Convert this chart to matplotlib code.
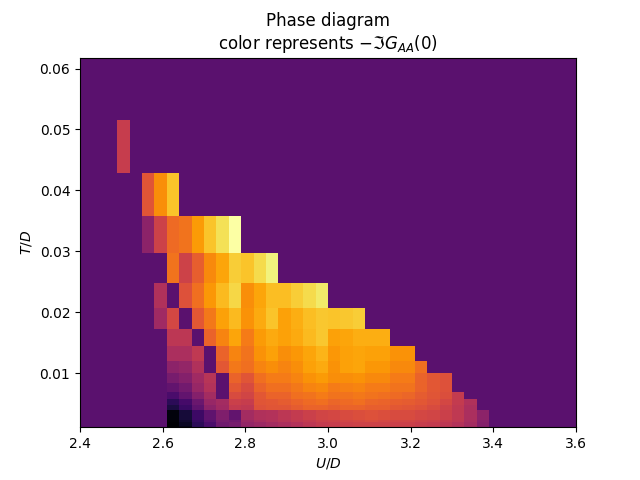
import matplotlib
matplotlib.use('Agg')
import matplotlib.pyplot as plt
import numpy as np

# U/D cell edges (40 columns) and T/D cell edges (22 rows, top to bottom)
U_edges = np.linspace(2.4, 3.6, 41)
T_edges = [0.0618, 0.05150, 0.04292, 0.03576, 0.02980, 0.02484, 0.02070,
           0.01725, 0.01437, 0.01198, 0.00998, 0.00832, 0.00693, 0.00578,
           0.00481, 0.00401, 0.00334, 0.00279, 0.00232, 0.00194, 0.00161,
           0.00134, 0.00112]

BG = 26       # insulating region
first_col = 3  # columns given below start at U = 2.49

# -Im G_AA(0), scaled 0..100, one string per T row (top to bottom), columns from U=2.49
img_rows = [
    "",
    "53",
    "26 26 61 75 86",
    "26 26 38 55 67 69 78 86 92 100",
    "26 26 26 26 69 55 64 74 80 88 86 91 96",
    "26 26 26 47 26 60 68 77 84 90 75 80 85 85 88 91 94",
    "26 26 26 43 57 26 62 70 79 84 76 81 86 79 82 85 87 86 87 88",
    "26 26 26 26 50 50 26 65 73 80 71 78 81 79 81 84 87 79 80 82 82 82",
    "26 26 26 26 46 46 51 26 65 73 69 76 79 75 77 80 83 77 79 80 79 79 76 76",
    "26 26 26 26 38 40 47 26 62 70 68 73 75 73 75 79 81 76 79 80 77 77 74 74 68",
    "26 26 26 26 33 36 43 49 26 65 61 68 71 71 73 76 78 75 75 76 74 74 71 71 65 62 60",
    "26 26 26 26 28 32 41 48 26 62 58 65 68 68 70 73 74 71 72 73 71 71 69 69 65 62 60",
    "26 26 26 26 22 28 36 44 26 58 56 62 65 65 68 69 71 69 69 70 69 68 67 66 63 61 59 52",
    "26 26 26 26 15 21 30 41 44 54 53 61 62 63 65 67 68 66 67 68 66 65 64 63 62 60 57 52 47",
    "26 26 26 26 11 18 27 38 43 52 51 60 61 61 63 65 65 64 65 65 64 64 62 61 60 58 55 51 46",
    "26 26 26 26 2 10 19 27 35 28 44 47 48 50 52 54 56 57 58 59 60 59 58 58 57 56 54 51 46 38",
    "26 26 26 26 2 10 19 27 35 28 44 47 48 50 52 54 56 57 58 59 60 59 58 58 57 56 54 51 46 38",
    "26 26 26 26 2 10 19 27 35 28 44 47 48 50 52 54 56 57 58 59 60 59 58 58 57 56 54 51 46 38",
    "26 26 26 26 1 8 17 25 33 31 42 45 47 49 51 52 54 55 56 57 58 57 56 56 55 54 52 50 45 37",
    "26 26 26 26 0 6 15 22 31 33 40 42 44 46 48 50 52 53 54 55 55 55 54 54 53 52 50 48 44 36",
    "26 26 26 26 0 6 15 22 31 33 40 42 44 46 48 50 52 53 54 55 55 55 54 54 53 52 50 48 44 36",
    "26 26 26 26 0 4 15 22 31 33 40 42 44 46 48 50 52 53 54 55 55 55 54 54 53 52 50 48 44 36",
]

Z = np.full((len(T_edges) - 1, len(U_edges) - 1), BG, dtype=float)
for i, row in enumerate(img_rows):
    vals = [float(v) for v in row.split()]
    Z[i, first_col:first_col + len(vals)] = vals
Z = Z / 100.0

fig, ax = plt.subplots(figsize=(6.4, 4.8), dpi=100)
ax.pcolormesh(U_edges, T_edges, Z, cmap='inferno', vmin=0, vmax=1)
ax.set_xlim(2.4, 3.6)
ax.set_ylim(T_edges[-1], T_edges[0])
ax.set_xticks([2.4, 2.6, 2.8, 3.0, 3.2, 3.4, 3.6])
ax.set_yticks([0.01, 0.02, 0.03, 0.04, 0.05, 0.06])
ax.set_xlabel('$U/D$')
ax.set_ylabel('$T/D$')
ax.set_title('Phase diagram\ncolor represents $-\\Im G_{AA}(0)$')

fig.savefig('out.png', dpi=100)
